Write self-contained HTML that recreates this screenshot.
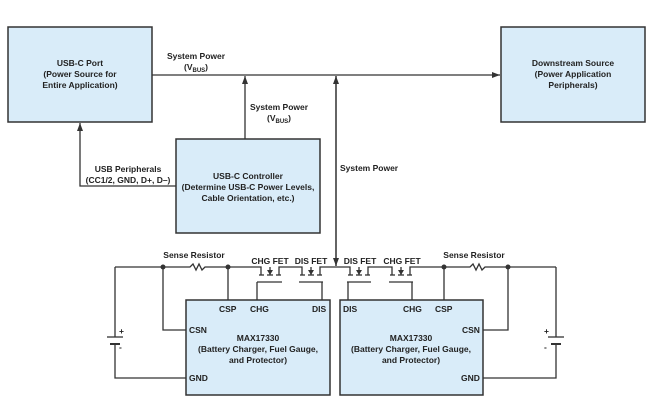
<!DOCTYPE html>
<html><head><meta charset="utf-8"><style>
html,body{margin:0;padding:0;background:#fff;}
svg{display:block;}
text{font-family:"Liberation Sans",sans-serif;font-weight:bold;font-size:8.5px;fill:#222;}
</style></head><body>
<svg width="661" height="406" viewBox="0 0 661 406" xmlns="http://www.w3.org/2000/svg">
<defs>
<marker id="a" markerWidth="8" markerHeight="6" refX="8" refY="3" orient="auto" markerUnits="userSpaceOnUse"><path d="M0,0 L8,3 L0,6 z" fill="#333"/></marker>
</defs>
<g fill="#d9ecf9" stroke="#333" stroke-width="1.5">
<rect x="8" y="27" width="144" height="95"/>
<rect x="501" y="27" width="144" height="95"/>
<rect x="176" y="139" width="144" height="94"/>
<rect x="186" y="300" width="144" height="95"/>
<rect x="340" y="300" width="143" height="95"/>
</g>
<g stroke="#333" stroke-width="1.3" fill="none">
<line x1="152" y1="75" x2="500" y2="75" marker-end="url(#a)"/>
<line x1="245" y1="139" x2="245" y2="76" marker-end="url(#a)"/>
<line x1="336" y1="266" x2="336" y2="76" marker-end="url(#a)"/>
<line x1="336" y1="76" x2="336" y2="266" marker-end="url(#a)"/>
<polyline points="176,186 80,186 80,123" marker-end="url(#a)"/>
<!-- rail -->
<polyline points="115,267 190,267 193,264 196,270 199,264 202,270 205,267 258,267"/>
<line x1="282" y1="267" x2="300" y2="267"/>
<line x1="322" y1="267" x2="348" y2="267"/>
<line x1="370" y1="267" x2="390" y2="267"/>
<polyline points="412,267 470,267 473,264 476,270 479,264 482,270 485,267 556,267"/>
<!-- battery wires -->
<polyline points="115,267 115,337"/><polyline points="115,344 115,378 186,378"/>
<polyline points="556,267 556,337"/><polyline points="556,344 556,378 483,378"/>
<line x1="107" y1="337" x2="123" y2="337"/><line x1="110" y1="344" x2="120" y2="344" stroke-width="2"/>
<line x1="548" y1="337" x2="564" y2="337"/><line x1="551" y1="344" x2="561" y2="344" stroke-width="2"/>
<!-- sense connections -->
<polyline points="163,267 163,330 186,330"/>
<line x1="228" y1="267" x2="228" y2="300"/>
<polyline points="508,267 508,330 483,330"/>
<line x1="444" y1="267" x2="444" y2="300"/>
<!-- gate wires -->
<polyline points="257,282 257,300"/>
<polyline points="322,282 322,300"/>
<polyline points="348,282 348,300"/>
<polyline points="412,282 412,300"/>
</g>
<g fill="#333">
<circle cx="163" cy="267" r="2.5"/><circle cx="228" cy="267" r="2.5"/>
<circle cx="444" cy="267" r="2.5"/><circle cx="508" cy="267" r="2.5"/>
</g>
<!-- FETs -->
<g stroke="#333" stroke-width="1.3" fill="none" id="fets">
<g transform="translate(258,0)">
<polyline points="0,267 3,267 3,275"/><polyline points="24,267 21,267 21,275"/>
<line x1="1" y1="275" x2="6" y2="275"/><line x1="9" y1="275" x2="15" y2="275"/><line x1="18" y1="275" x2="23" y2="275"/>
<line x1="12" y1="267" x2="12" y2="275"/><line x1="-1" y1="282" x2="24" y2="282"/>
</g>
<g transform="translate(299,0)">
<polyline points="1,267 3,267 3,275"/><polyline points="23,267 21,267 21,275"/>
<line x1="1" y1="275" x2="6" y2="275"/><line x1="9" y1="275" x2="15" y2="275"/><line x1="18" y1="275" x2="23" y2="275"/>
<line x1="12" y1="267" x2="12" y2="275"/><line x1="0" y1="282" x2="24" y2="282"/>
</g>
<g transform="translate(347,0)">
<polyline points="1,267 3,267 3,275"/><polyline points="23,267 21,267 21,275"/>
<line x1="1" y1="275" x2="6" y2="275"/><line x1="9" y1="275" x2="15" y2="275"/><line x1="18" y1="275" x2="23" y2="275"/>
<line x1="12" y1="267" x2="12" y2="275"/><line x1="0" y1="282" x2="24" y2="282"/>
</g>
<g transform="translate(389,0)">
<polyline points="1,267 3,267 3,275"/><polyline points="23,267 21,267 21,275"/>
<line x1="1" y1="275" x2="6" y2="275"/><line x1="9" y1="275" x2="15" y2="275"/><line x1="18" y1="275" x2="23" y2="275"/>
<line x1="12" y1="267" x2="12" y2="275"/><line x1="0" y1="282" x2="24" y2="282"/>
</g>
</g>
<g fill="#333">
<path d="M267,270 L273,270 L270,275z"/><path d="M308,270 L314,270 L311,275z"/>
<path d="M356,270 L362,270 L359,275z"/><path d="M398,270 L404,270 L401,275z"/>
</g>
<g text-anchor="middle">
<text x="80" y="66">USB-C Port</text>
<text x="80" y="77">(Power Source for</text>
<text x="80" y="88">Entire Application)</text>
<text x="573" y="66">Downstream Source</text>
<text x="573" y="77">(Power Application</text>
<text x="573" y="88">Peripherals)</text>
<text x="248" y="179">USB-C Controller</text>
<text x="248" y="190">(Determine USB-C Power Levels,</text>
<text x="248" y="201">Cable Orientation, etc.)</text>
<text x="196" y="59">System Power</text>
<text x="196" y="70">(V<tspan font-size="6" dy="2">BUS</tspan><tspan dy="-2">)</tspan></text>
<text x="279" y="110">System Power</text>
<text x="279" y="121">(V<tspan font-size="6" dy="2">BUS</tspan><tspan dy="-2">)</tspan></text>
<text x="128" y="172">USB Peripherals</text>
<text x="128" y="183">(CC1/2, GND, D+, D–)</text>
<text x="258" y="341">MAX17330</text>
<text x="258" y="352">(Battery Charger, Fuel Gauge,</text>
<text x="258" y="363">and Protector)</text>
<text x="411" y="341">MAX17330</text>
<text x="411" y="352">(Battery Charger, Fuel Gauge,</text>
<text x="411" y="363">and Protector)</text>
<text x="194" y="258">Sense Resistor</text>
<text x="474" y="258">Sense Resistor</text>
<text x="270" y="264">CHG FET</text>
<text x="311" y="264">DIS FET</text>
<text x="360" y="264">DIS FET</text>
<text x="402" y="264">CHG FET</text>
</g>
<text x="340" y="171">System Power</text>
<text x="219" y="312">CSP</text><text x="250" y="312">CHG</text><text x="312" y="312">DIS</text>
<text x="343" y="312">DIS</text><text x="403" y="312">CHG</text><text x="435" y="312">CSP</text>
<text x="189" y="333">CSN</text><text x="189" y="381">GND</text>
<text x="462" y="333">CSN</text><text x="461" y="381">GND</text>
<text x="119" y="334" font-size="7">+</text><text x="119" y="350" font-size="7">-</text>
<text x="544" y="334" font-size="7">+</text><text x="544" y="350" font-size="7">-</text>
</svg>
</body></html>
